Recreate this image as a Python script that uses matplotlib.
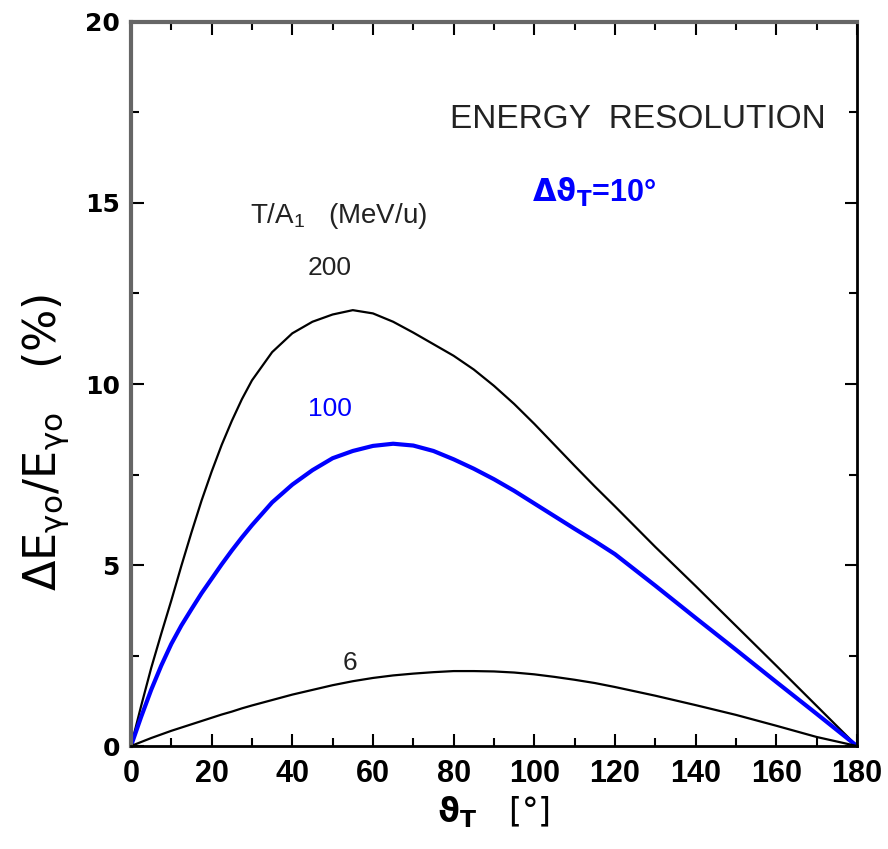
import matplotlib
matplotlib.use("Agg")
import matplotlib.pyplot as plt
from matplotlib.ticker import MultipleLocator

plt.rcParams["mathtext.default"] = "regular"

# --- data ---------------------------------------------------------------------
theta = [0, 2.5, 5, 7.5, 10, 12.5, 15, 17.5, 20, 22.5, 25, 27.5, 30, 35, 40,
         45, 50, 55, 60, 65, 70, 75, 80, 85, 90, 95, 100, 105, 110, 115, 120,
         130, 140, 150, 160, 170, 180]
res_200 = [0, 1.1, 2.15, 3.1, 4.02, 4.98, 5.9, 6.78, 7.58, 8.32, 8.98, 9.58,
           10.1, 10.88, 11.4, 11.72, 11.92, 12.04, 11.95, 11.72, 11.42, 11.1,
           10.78, 10.4, 9.95, 9.45, 8.9, 8.32, 7.74, 7.17, 6.62, 5.5, 4.42,
           3.32, 2.22, 1.11, 0]
res_100 = [0, 0.8, 1.55, 2.22, 2.82, 3.33, 3.78, 4.22, 4.62, 5.02, 5.4, 5.76,
           6.1, 6.73, 7.22, 7.62, 7.95, 8.15, 8.29, 8.35, 8.3, 8.15, 7.92,
           7.66, 7.37, 7.05, 6.7, 6.35, 6.0, 5.66, 5.3, 4.43, 3.54, 2.66, 1.77,
           0.89, 0]
res_6 = [0, 0.11, 0.22, 0.32, 0.42, 0.51, 0.6, 0.69, 0.78, 0.87, 0.95, 1.04,
         1.12, 1.27, 1.42, 1.55, 1.68, 1.79, 1.88, 1.95, 2.0, 2.04, 2.07, 2.07,
         2.06, 2.03, 1.98, 1.91, 1.83, 1.74, 1.63, 1.39, 1.13, 0.86, 0.56,
         0.25, 0]

x_ticks = [0, 20, 40, 60, 80, 100, 120, 140, 160, 180]
y_ticks = [0, 5, 10, 15, 20]

sans = ["Liberation Sans", "DejaVu Sans"]

# --- plot -----------------------------------------------------------------------
fig = plt.figure(figsize=(8.88, 8.49), dpi=100)
ax = fig.add_axes([0.1475, 0.1213, 0.8175, 0.8528])

ax.plot(theta, res_200, color="black", lw=1.6)
ax.plot(theta, res_100, color="#0000ff", lw=3.0)
ax.plot(theta, res_6, color="black", lw=1.6)

ax.set_xlim(0, 180)
ax.set_ylim(0, 20)
ax.set_xticks(x_ticks)
ax.set_yticks(y_ticks)
ax.xaxis.set_minor_locator(MultipleLocator(10))
ax.yaxis.set_minor_locator(MultipleLocator(2.5))
ax.tick_params(which="both", direction="in", top=True, right=True, width=1.5)
ax.tick_params(which="major", length=9)
ax.tick_params(which="minor", length=6)
ax.tick_params(axis="x", pad=9)
ax.tick_params(axis="y", pad=8)

for lab in ax.get_xticklabels():
    lab.set_family(sans)
    lab.set_fontweight("bold")
    lab.set_fontsize(22)
for lab in ax.get_yticklabels():
    lab.set_family("DejaVu Sans")
    lab.set_fontweight("bold")
    lab.set_fontsize(18)

for side in ["left", "top"]:
    ax.spines[side].set_color("#666666")
    ax.spines[side].set_linewidth(3)
for side in ["right", "bottom"]:
    ax.spines[side].set_color("black")
    ax.spines[side].set_linewidth(2)

ax.set_xlabel(r"$\mathbf{\vartheta_T}$   [°]", fontsize=24, labelpad=4)
ax.set_ylabel(r"$\Delta E_{\gamma o}/E_{\gamma o}$   (%)", fontsize=32)
ax.yaxis.set_label_coords(-0.083, 0.42)

ax.text(79, 17.3, "ENERGY  RESOLUTION", family=sans, fontsize=24,
        color="#222222", va="center")
ax.text(99.5, 15.3, r"$\mathbf{\Delta\vartheta_T}$=10°", family=sans,
        fontsize=22, fontweight="bold", color="#0000ff", va="center")
ax.text(29.5, 14.65, r"T/A$_1$   (MeV/u)", family=sans, fontsize=20,
        color="#222222", va="center")
ax.text(49.3, 13.2, "200", family=sans, fontsize=19, color="#222222",
        ha="center", va="center")
ax.text(49.3, 9.3, "100", family=sans, fontsize=19, color="#0000ff",
        ha="center", va="center")
ax.text(54.3, 2.3, "6", family=sans, fontsize=19, color="#222222",
        ha="center", va="center")

fig.savefig("out.png", dpi=100)
